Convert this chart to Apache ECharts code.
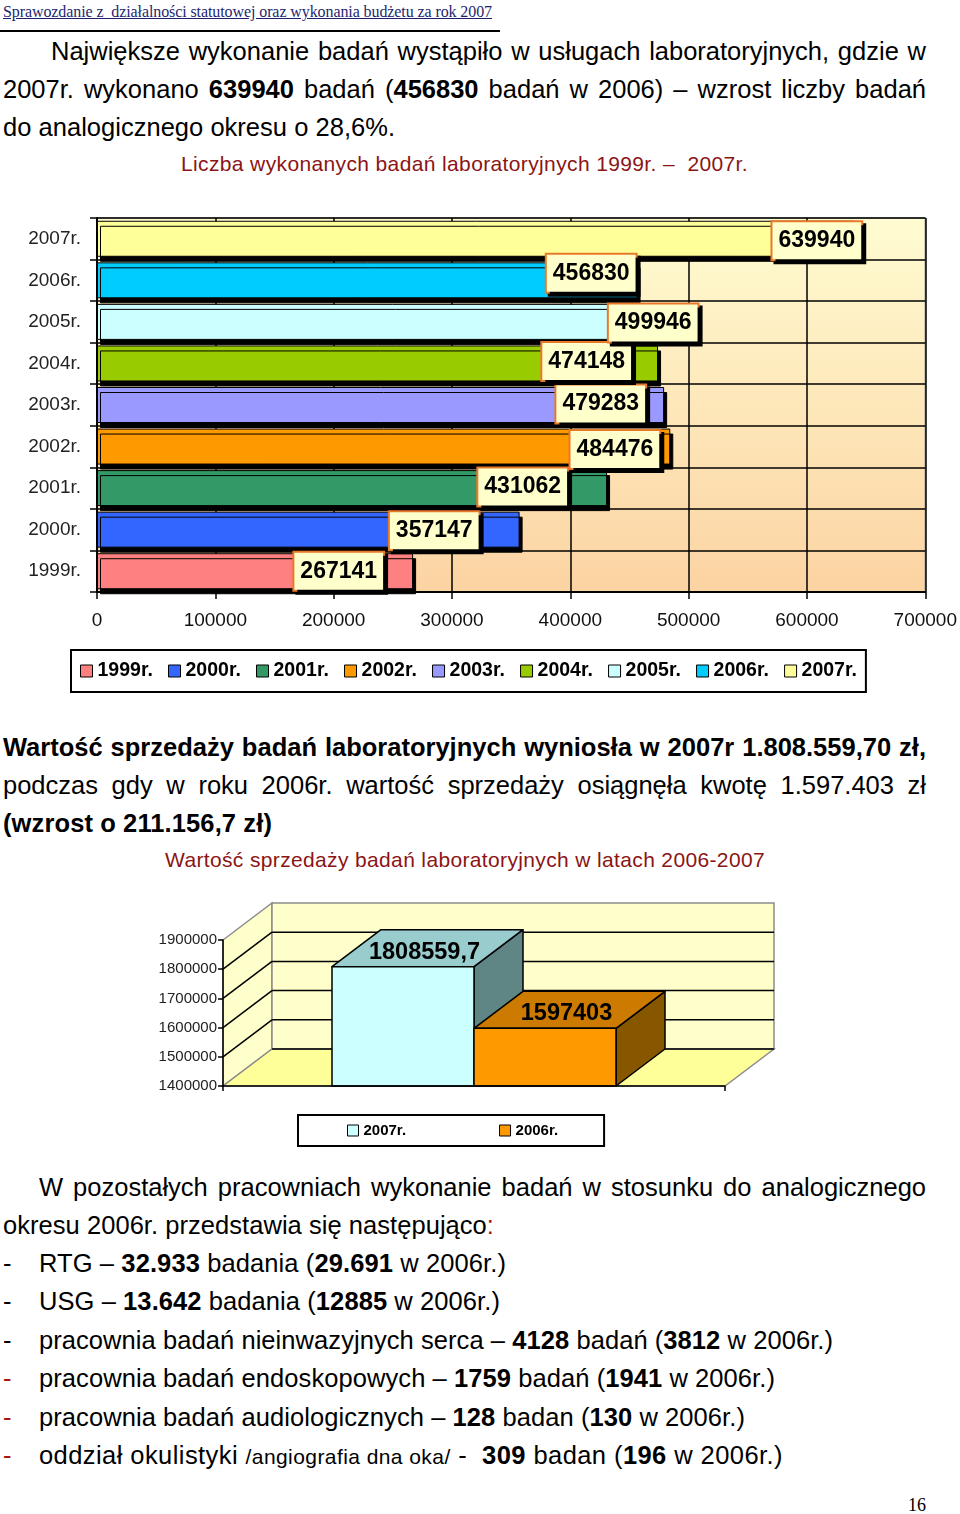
<!DOCTYPE html>
<html><head><meta charset="utf-8">
<script src="https://cdn.jsdelivr.net/npm/echarts@6/dist/echarts.min.js"></script>
<style>
html,body{margin:0;padding:0;background:#fff;}
#page{position:relative;width:960px;height:1514px;overflow:hidden;font-family:"Liberation Sans",Arial,sans-serif;color:#000;}
.ln{position:absolute;white-space:nowrap;font-size:25.5px;line-height:38px;}
.ln b{font-weight:bold;}
.bold{font-weight:bold;}
.cap{font-size:21px;color:#8B1414;line-height:30px;}
.hdr{font-family:"Liberation Serif","Times New Roman",serif;font-size:16px;color:#1F1F70;text-decoration:underline;line-height:20px;}
.pg{font-family:"Liberation Serif","Times New Roman",serif;font-size:18px;line-height:22px;}
.red{color:#B01010;}
.small{font-size:21px;}
#rule{position:absolute;left:0;top:30px;width:500px;height:2px;background:#000;}
#c1{position:absolute;left:0;top:195px;width:960px;height:510px;}
#c2{position:absolute;left:0;top:880px;width:960px;height:285px;}
</style></head><body><div id="page">
<div class="ln hdr" data-cy="12" data-l="3" data-r="492" data-m="f">Sprawozdanie z&nbsp; działalności statutowej oraz wykonania budżetu za rok 2007</div>
<div id="rule"></div>
<div class="ln" data-cy="51" data-l="51" data-r="926" data-m="j">Największe wykonanie badań wystąpiło w usługach laboratoryjnych, gdzie w</div>
<div class="ln" data-cy="89" data-l="3" data-r="926" data-m="j">2007r. wykonano <b>639940</b> badań (<b>456830</b> badań w 2006) – wzrost liczby badań</div>
<div class="ln" data-cy="127" data-l="3" data-r="395" data-m="f">do analogicznego okresu o 28,6%.</div>
<div class="ln cap" data-cy="164" data-l="181" data-r="748" data-m="f">Liczba wykonanych badań laboratoryjnych 1999r. –&nbsp; 2007r.</div>
<div id="c1"></div>
<div class="ln bold" data-cy="747" data-l="3" data-r="926" data-m="j">Wartość sprzedaży badań laboratoryjnych wyniosła w 2007r 1.808.559,70 zł,</div>
<div class="ln" data-cy="785" data-l="3" data-r="926" data-m="j">podczas gdy w roku 2006r. wartość sprzedaży osiągnęła kwotę 1.597.403 zł</div>
<div class="ln bold" data-cy="823" data-l="3" data-r="272" data-m="f">(wzrost o 211.156,7 zł)</div>
<div class="ln cap" data-cy="860" data-l="165" data-r="765" data-m="f">Wartość sprzedaży badań laboratoryjnych w latach 2006-2007</div>
<div id="c2"></div>
<div class="ln" data-cy="1187" data-l="39" data-r="926" data-m="j">W pozostałych pracowniach wykonanie badań w stosunku do analogicznego</div>
<div class="ln" data-cy="1225" data-l="3" data-r="494" data-m="f">okresu 2006r. przedstawia się następująco<span class="red">:</span></div>
<div class="ln" data-cy="1263" data-l="3" data-r="10" data-m="n">-</div>
<div class="ln" data-cy="1263" data-l="39" data-r="506" data-m="f">RTG – <b>32.933</b> badania (<b>29.691</b> w 2006r.)</div>
<div class="ln" data-cy="1301" data-l="3" data-r="10" data-m="n">-</div>
<div class="ln" data-cy="1301" data-l="39" data-r="500" data-m="f">USG – <b>13.642</b> badania (<b>12885</b> w 2006r.)</div>
<div class="ln" data-cy="1340" data-l="3" data-r="10" data-m="n">-</div>
<div class="ln" data-cy="1340" data-l="39" data-r="833" data-m="f">pracownia badań nieinwazyjnych serca – <b>4128</b> badań (<b>3812</b> w 2006r.)</div>
<div class="ln red" data-cy="1378" data-l="3" data-r="10" data-m="n">-</div>
<div class="ln" data-cy="1378" data-l="39" data-r="775" data-m="f">pracownia badań endoskopowych – <b>1759</b> badań (<b>1941</b> w 2006r.)</div>
<div class="ln red" data-cy="1417" data-l="3" data-r="10" data-m="n">-</div>
<div class="ln" data-cy="1417" data-l="39" data-r="745" data-m="f">pracownia badań audiologicznych – <b>128</b> badan (<b>130</b> w 2006r.)</div>
<div class="ln red" data-cy="1455" data-l="3" data-r="10" data-m="n">-</div>
<div class="ln" data-cy="1455" data-l="39" data-r="783" data-m="f">oddział okulistyki <span class="small">/angiografia dna oka/</span> -&nbsp; <b>309</b> badan (<b>196</b> w 2006r.)</div>
<div class="ln pg" data-cy="1505" data-l="908" data-r="926" data-m="f">16</div>
</div>
<script>
// ---------- Chart 1 data ----------
const labYears = ['1999r.', '2000r.', '2001r.', '2002r.', '2003r.', '2004r.', '2005r.', '2006r.', '2007r.'];
const labCounts = [267141, 357147, 431062, 484476, 479283, 474148, 499946, 456830, 639940];
const labColors = ['#FF8080', '#3366FF', '#339966', '#FF9900', '#9999FF', '#99CC00', '#CCFFFF', '#00CCFF', '#FFFF99'];
const labAxisMax = 700000;
const labAxisStep = 100000;

// ---------- Chart 2 data ----------
const salesYears = ['2007r.', '2006r.'];
const salesValues = [1808559.7, 1597403];
const salesTicks = [1400000, 1500000, 1600000, 1700000, 1800000, 1900000];

// ---------- layout / style constants ----------
const FONT = '"Liberation Sans", Arial, sans-serif';
const labLabelShift = [[-30, 0], [-41, 1], [-40, -1], [-11, 3], [-19, -1], [-27, -2], [9, 1], [-2, -7], [7, 2]];
const salesFront = ['#CCFFFF', '#FF9900'];
const salesTop = ['#99CCCC', '#CC7A00'];
const salesSide = ['#5F8585', '#875700'];
const DX = 49, DY = 37, BAR_W = 142;
const plainNum = v => String(v);

// ---------- text fitting ----------
document.querySelectorAll('.ln').forEach(el => {
  const l = +el.dataset.l, r = +el.dataset.r, cy = +el.dataset.cy;
  const lh = parseFloat(getComputedStyle(el).lineHeight);
  el.style.left = l + 'px';
  el.style.top = (cy - lh / 2) + 'px';
  const w = el.getBoundingClientRect().width;
  const target = r - l;
  const txt = el.textContent;
  if (el.dataset.m === 'j') {
    const n = (txt.match(/[ \u00a0]/g) || []).length;
    if (n) el.style.wordSpacing = ((target - w) / n) + 'px';
  } else if (el.dataset.m === 'f') {
    el.style.letterSpacing = ((target - w) / txt.length) + 'px';
  }
});

// ---------- Chart 1 ----------
const c1 = echarts.init(document.getElementById('c1'), null, {renderer: 'canvas'});
c1.setOption({
  animation: false,
  grid: {
    left: 97, top: 23, width: 829, height: 374, show: true,
    borderColor: '#999', borderWidth: 1.5,
    backgroundColor: {type: 'linear', x: 0, y: 0, x2: 0, y2: 1,
      colorStops: [{offset: 0, color: '#FFFCD2'}, {offset: 1, color: '#FCD3A2'}]}
  },
  legend: {
    left: 71, top: 455, orient: 'horizontal',
    data: labYears,
    icon: 'rect', itemWidth: 12, itemHeight: 12, itemGap: 15.2,
    padding: [11, 9, 11, 9],
    borderColor: '#000', borderWidth: 2,
    backgroundColor: '#fff',
    textStyle: {fontFamily: FONT, fontSize: 19.5, fontWeight: 'bold', color: '#000'},
    itemStyle: {borderColor: '#000', borderWidth: 1, shadowBlur: 0, shadowColor: 'rgba(0,0,0,0)', shadowOffsetX: 0, shadowOffsetY: 0}
  },
  xAxis: {
    type: 'value', min: 0, max: labAxisMax, interval: labAxisStep,
    axisLine: {show: true, lineStyle: {color: '#000', width: 2}},
    axisTick: {show: true, length: 7, lineStyle: {color: '#000', width: 1.5}},
    splitLine: {show: true, lineStyle: {color: '#000', width: 1.5}},
    axisLabel: {fontFamily: FONT, fontSize: 19, color: '#111', margin: 19, formatter: plainNum}
  },
  yAxis: {
    type: 'category', data: labYears,
    axisLine: {show: true, lineStyle: {color: '#000', width: 2}},
    axisTick: {show: true, length: 7, lineStyle: {color: '#000', width: 1.5}},
    splitLine: {show: true, lineStyle: {color: '#000', width: 1.5}},
    axisLabel: {fontFamily: FONT, fontSize: 19, color: '#222', margin: 16}
  },
  series: labYears.map((y, i) => ({
    name: y, type: 'bar', barWidth: 36, barGap: '-100%',
    data: labYears.map((_, j) => (j === i ? labCounts[i] : null)),
    itemStyle: {color: labColors[i], borderColor: '#000', borderWidth: 1,
      shadowColor: '#000', shadowBlur: 0, shadowOffsetX: 3, shadowOffsetY: 5},
    label: {
      show: true, position: 'insideRight', distance: 0, offset: labLabelShift[i],
      fontFamily: FONT, fontSize: 23, fontWeight: 'bold', color: '#000',
      backgroundColor: '#FFFFCC', borderColor: '#E8792B', borderWidth: 2,
      padding: [8, 6, 6, 6],
      shadowColor: '#000', shadowBlur: 0, shadowOffsetX: 3, shadowOffsetY: 3
    },
    emphasis: {disabled: true}
  }))
});

// ---------- Chart 2 ----------
const c2 = echarts.init(document.getElementById('c2'), null, {renderer: 'canvas'});
function wallRender(params, api) {
  const base = api.coord([0, salesTicks[0]]);
  const band = api.size([1, 0])[0];
  const L = base[0] - band / 2, R = base[0] + band / 2;
  const yB = base[1];
  const yT = api.coord([0, salesTicks[salesTicks.length - 1]])[1];
  const grey = {stroke: '#8C8C8C', lineWidth: 1.5};
  const children = [
    {type: 'polygon', shape: {points: [[L, yB], [L + DX, yB - DY], [L + DX, yT - DY], [L, yT]]},
      style: Object.assign({fill: '#FFFFCC'}, grey)},
    {type: 'rect', shape: {x: L + DX, y: yT - DY, width: R - L, height: yB - yT},
      style: Object.assign({fill: '#FFFFCC'}, grey)},
    {type: 'polygon', shape: {points: [[L, yB], [R, yB], [R + DX, yB - DY], [L + DX, yB - DY]]},
      style: Object.assign({fill: '#FFFF99'}, grey)}
  ];
  salesTicks.forEach((t, k) => {
    if (k === salesTicks.length - 1) return;
    const y = api.coord([0, t])[1];
    if (k > 0) {
      children.push({type: 'line', shape: {x1: L, y1: y, x2: L + DX, y2: y - DY}, style: {stroke: '#000', lineWidth: 1.5}});
    }
    children.push({type: 'line', shape: {x1: L + DX, y1: y - DY, x2: R + DX, y2: y - DY}, style: {stroke: '#000', lineWidth: 1.5}});
  });
  return {type: 'group', children};
}
function makeBarRender(k) {
  return function (params, api) {
    const top = api.coord([api.value(0), api.value(1)]);
    const base = api.coord([api.value(0), salesTicks[0]]);
    const x0 = k === 0 ? top[0] - BAR_W : top[0];
    const x1 = x0 + BAR_W;
    const yT = top[1], yB = base[1];
    const ln = {stroke: '#000', lineWidth: 1.5, lineJoin: 'round'};
    return {type: 'group', children: [
      {type: 'polygon', shape: {points: [[x1, yT], [x1 + DX, yT - DY], [x1 + DX, yB - DY], [x1, yB]]},
        style: Object.assign({fill: salesSide[k]}, ln)},
      {type: 'polygon', shape: {points: [[x0, yT], [x1, yT], [x1 + DX, yT - DY], [x0 + DX, yT - DY]]},
        style: Object.assign({fill: salesTop[k]}, ln)},
      {type: 'rect', shape: {x: x0, y: yT, width: BAR_W, height: yB - yT},
        style: Object.assign({fill: salesFront[k]}, ln)},
      {type: 'text', z2: 10, style: {
        text: String(api.value(1)).replace('.', ','),
        x: (x0 + x1) / 2 + DX / 2 - 3, y: yT - DY / 2 + 4,
        align: 'center', verticalAlign: 'middle',
        font: 'bold 23.5px ' + FONT, fill: '#000'}}
    ]};
  };
}
c2.setOption({
  animation: false,
  grid: {left: 223, top: 60, width: 502, height: 146},
  legend: {
    left: 298, top: 235, data: salesYears,
    icon: 'rect', itemWidth: 11, itemHeight: 11, itemGap: 93,
    padding: [8, 46, 8, 49],
    borderColor: '#000', borderWidth: 2, backgroundColor: '#fff',
    textStyle: {fontFamily: FONT, fontSize: 15, fontWeight: 'bold', color: '#000'},
    itemStyle: {borderColor: '#000', borderWidth: 1}
  },
  xAxis: {
    type: 'category', data: ['sprzedaż'], z: 10,
    axisLine: {show: true, lineStyle: {color: '#000', width: 1.5}},
    axisTick: {show: true, length: 5, lineStyle: {color: '#000', width: 1.5}},
    axisLabel: {show: false}, splitLine: {show: false}
  },
  yAxis: {
    type: 'value', min: salesTicks[0], max: salesTicks[salesTicks.length - 1], interval: 100000, z: 10,
    axisLine: {show: true, lineStyle: {color: '#000', width: 1.5}},
    axisTick: {show: true, length: 5, lineStyle: {color: '#000', width: 1.5}},
    axisLabel: {fontFamily: FONT, fontSize: 15, color: '#222', margin: 6, formatter: plainNum},
    splitLine: {show: false}
  },
  series: [
    {type: 'custom', name: 'tło', silent: true, z: 1, data: [[0, salesTicks[0]]], renderItem: wallRender},
    ...salesYears.map((y, k) => ({
      type: 'custom', name: y, z: 3 + k, data: [[0, salesValues[k]]],
      itemStyle: {color: salesFront[k]},
      renderItem: makeBarRender(k)
    }))
  ]
});
</script>
</body></html>
